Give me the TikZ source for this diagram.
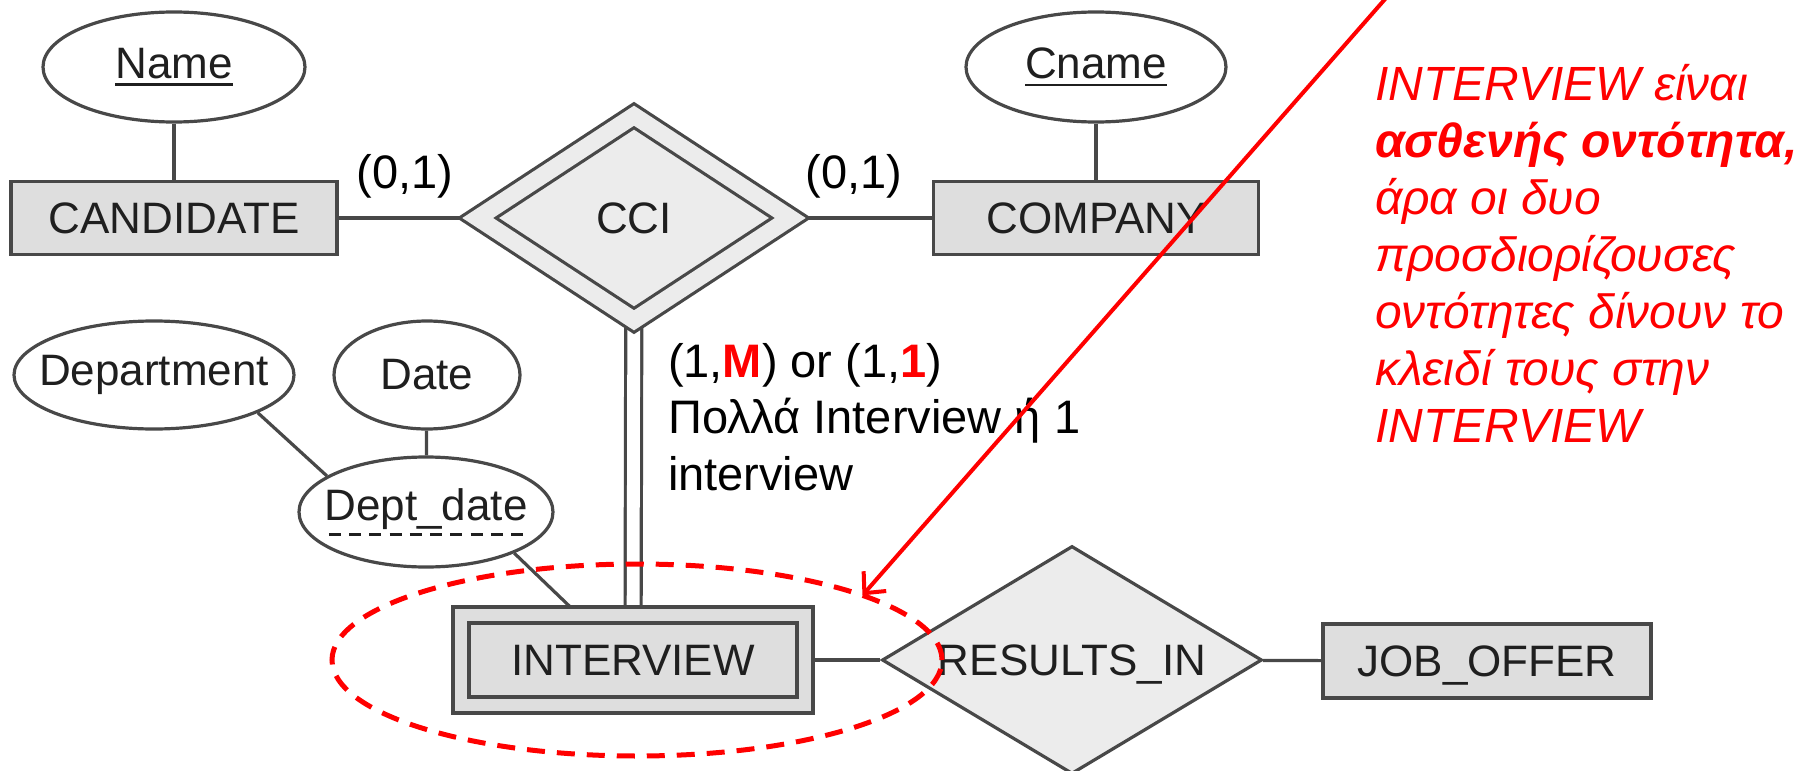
\documentclass[tikz,border=0pt]{standalone}
\usepackage{fontspec}
\setmainfont{Liberation Sans}
\usetikzlibrary{shapes.geometric,backgrounds,arrows.meta}
\definecolor{erline}{RGB}{72,72,72}
\definecolor{entityfill}{RGB}{222,222,222}
\definecolor{relfill}{RGB}{236,236,236}
\definecolor{notered}{RGB}{255,0,0}
\newsavebox{\keybox}
\newcommand{\fullkey}[1]{\sbox{\keybox}{#1}\rlap{\rule[-3.9pt]{\wd\keybox}{1.3pt}}\usebox{\keybox}}
\newcommand{\partkey}[1]{\sbox{\keybox}{#1}\rlap{\hbox to \wd\keybox{\xleaders\hbox to .45em{\hss\rule[-7.6pt]{.27em}{1.3pt}\hss}\hfill}}\usebox{\keybox}}
\begin{document}
\begin{tikzpicture}[x=0.5pt,y=-0.5pt,
    erlabel/.style={font=\fontsize{22}{26}\selectfont, text=black!88},
    entity/.style={erlabel, rectangle, draw=erline, line width=1.6pt, fill=entityfill, inner sep=0pt, text depth=0pt},
    weakentity/.style={entity, double=entityfill, double distance=6.4pt},
    attr/.style={erlabel, ellipse, draw=erline, line width=1.6pt, fill=white, inner sep=0pt, inner xsep=-8pt},
    rel/.style={erlabel, diamond, aspect=1.65, draw=erline, line width=1.6pt, fill=relfill, inner sep=0pt, text depth=0pt},
    identrel/.style={rel, double=relfill, double distance=8.4pt},
    link/.style={draw=erline, line width=1.6pt},
    card/.style={font=\fontsize{23.5}{28.25}\selectfont, align=left},
    note/.style={font=\fontsize{24}{28.5}\selectfont\itshape, text=notered, align=left}]
  \useasboundingbox (0,0) rectangle (1796,771);
  \path
    (174,67) node[attr, minimum width=131pt, minimum height=55pt] (name) {\fullkey{Name}}
    (174,218) node[entity, minimum width=163pt, minimum height=36.5pt] (candidate) {CANDIDATE}
    (634,218) node[identrel, minimum width=157pt, minimum height=103pt] (cci) {CCI}
    (1096,67) node[attr, minimum width=130pt, minimum height=55pt] (cname) {\fullkey{Cname}}
    (1096,218) node[entity, minimum width=162.5pt, minimum height=36.5pt] (company) {COMPANY}
    (154,375) node[attr, minimum width=140pt, minimum height=54pt] (department) {Department}
    (427,375) node[attr, minimum width=93pt, minimum height=54pt] (date) {Date}
    (426,512) node[attr, minimum width=127pt, minimum height=55pt] (deptdate) {\partkey{Dept\_date}}
    (633,660) node[weakentity, minimum width=172pt, minimum height=45pt] (interview) {INTERVIEW}
    (1072,660) node[rel, minimum width=190pt, minimum height=114pt] (resultsin) {RESULTS\_IN}
    (1487,661) node[entity, minimum width=164pt, minimum height=37pt] (joboffer) {JOB\_OFFER}
    (637,660) node[ellipse, draw=notered, line width=2.5pt, dash pattern=on 9pt off 6pt, inner sep=0pt, outer sep=0pt, minimum width=305pt, minimum height=96pt] (weakmark) {}
    (405,176) node[card] (candcard) {(0,1)}
    (854,176) node[card] (compcard) {(0,1)}
    (661,490) node[card, anchor=base west] (intcard) {(1,\textcolor{notered}{\textbf{M}}) or (1,\textcolor{notered}{\textbf{1}})\\Πολλά Interview ή 1\\interview}
    (1368,442) node[note, anchor=base west] (weaknote) {INTERVIEW είναι\\\textbf{ασθενής οντότητα,}\\άρα οι δυο\\προσδιορίζουσες\\οντότητες δίνουν το\\κλειδί τους στην\\INTERVIEW};
  \begin{scope}[on background layer]
    \path[link] (name) to (candidate);
    \path[link] (candidate) to (cci);
    \path[link] (cci) to (company);
    \path[link] (cname) to (company);
    \path[link, double=white, double distance=6.4pt] (cci) to (interview);
    \path[link] (department.-20) to (deptdate.160);
    \path[link] (date) to (deptdate);
    \path[link] (deptdate.-25) to ([xshift=-28pt]interview.north);
    \path[link] (interview) to (resultsin);
    \path[link] (resultsin) to (joboffer);
  \end{scope}
  \coordinate (notestart) at (1386,-2);
  \draw[notered, line width=2pt, -{Straight Barb[length=8pt,width=15pt]}] (notestart) to (weakmark.16);
\end{tikzpicture}
\end{document}
